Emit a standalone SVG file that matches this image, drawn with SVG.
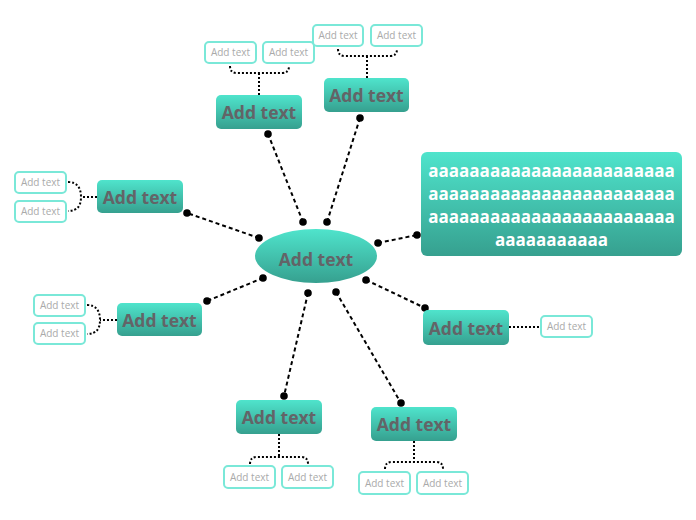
<svg xmlns="http://www.w3.org/2000/svg" width="696" height="520" viewBox="0 0 696 520">
<defs>
<linearGradient id="g" x1="0" y1="0" x2="0" y2="1">
<stop offset="0" stop-color="#4fe4cc"/>
<stop offset="1" stop-color="#36a08f"/>
</linearGradient>
<style>
.topic{fill:url(#g)}
.tt{font-family:"Open Sans","Noto Sans",sans-serif;font-weight:bold;font-size:17.5px;fill:#636467;text-anchor:middle}
.sub{fill:#fff;stroke:#7ae8d8;stroke-width:2}
.st{font-family:"Open Sans","Noto Sans",sans-serif;font-size:10px;fill:#aaaaaa;text-anchor:middle}
.main{fill:none;stroke:#000;stroke-width:2;stroke-dasharray:4 3}
.br{fill:none;stroke:#000;stroke-width:2;stroke-dasharray:2 2}
.dot{fill:#000}
.bt{font-family:"Open Sans","Noto Sans",sans-serif;font-weight:bold;font-size:17px;fill:#fff;text-anchor:middle}
</style>
</defs>
<g id="connectors">
<line class="main" x1="303" y1="222" x2="268" y2="134"/>
<line class="main" x1="327" y1="222" x2="360" y2="118"/>
<line class="main" x1="259" y1="238" x2="187" y2="213"/>
<line class="main" x1="263" y1="278" x2="207" y2="301"/>
<line class="main" x1="308" y1="293" x2="284" y2="396"/>
<line class="main" x1="336" y1="292" x2="401" y2="403"/>
<line class="main" x1="366" y1="280" x2="425" y2="308"/>
<line class="main" x1="378" y1="243" x2="417" y2="235"/>
<circle class="dot" cx="303" cy="222" r="3.8"/><circle class="dot" cx="268" cy="134" r="3.8"/>
<circle class="dot" cx="327" cy="222" r="3.8"/><circle class="dot" cx="360" cy="118" r="3.8"/>
<circle class="dot" cx="259" cy="238" r="3.8"/><circle class="dot" cx="187" cy="213" r="3.8"/>
<circle class="dot" cx="263" cy="278" r="3.8"/><circle class="dot" cx="207" cy="301" r="3.8"/>
<circle class="dot" cx="308" cy="293" r="3.8"/><circle class="dot" cx="284" cy="396" r="3.8"/>
<circle class="dot" cx="336" cy="292" r="3.8"/><circle class="dot" cx="401" cy="403" r="3.8"/>
<circle class="dot" cx="366" cy="280" r="3.8"/><circle class="dot" cx="425" cy="308" r="3.8"/>
<circle class="dot" cx="378" cy="243" r="3.8"/><circle class="dot" cx="417" cy="235" r="3.8"/>
<path class="br" d="M259,95 V73 M230,66 Q230,73 237,73 H282 Q289,73 289,66"/>
<path class="br" d="M367,78 V56 M338,49 Q338,56 345,56 H390 Q397,56 397,49"/>
<path class="br" d="M97,197 H81 M68,182 C78,182 81,189 81,197 C81,205 78,211 68,211"/>
<path class="br" d="M117,320 H100 M87,305 C97,305 100,312 100,320 C100,328 97,334 87,334"/>
<path class="br" d="M279,434 V457 M250,464 Q250,457 257,457 H301 Q308,457 308,464"/>
<path class="br" d="M414,441 V462 M385,469 Q385,462 392,462 H436 Q443,462 443,469"/>
<line class="br" x1="509" y1="327" x2="540" y2="327"/>
</g>
<g id="center">
<ellipse class="topic" cx="316" cy="256" rx="61" ry="27"/>
<text class="tt" x="316" y="266">Add text</text>
</g>
<g id="topic1">
<rect class="topic" x="216" y="95" width="86" height="34" rx="5"/>
<text class="tt" x="259" y="119">Add text</text>
</g>
<g id="topic1-sub1"><rect class="sub" x="205" y="42" width="51" height="21" rx="4"/><text class="st" x="230.5" y="56">Add text</text></g>
<g id="topic1-sub2"><rect class="sub" x="263" y="42" width="51" height="21" rx="4"/><text class="st" x="288.5" y="56">Add text</text></g>
<g id="topic2">
<rect class="topic" x="324" y="78" width="85" height="34" rx="5"/>
<text class="tt" x="366.5" y="102">Add text</text>
</g>
<g id="topic2-sub1"><rect class="sub" x="313" y="25" width="50" height="21" rx="4"/><text class="st" x="338" y="39">Add text</text></g>
<g id="topic2-sub2"><rect class="sub" x="371" y="25" width="51" height="21" rx="4"/><text class="st" x="396.5" y="39">Add text</text></g>
<g id="topic3">
<rect class="topic" x="97" y="180" width="86" height="33" rx="5"/>
<text class="tt" x="140" y="204">Add text</text>
</g>
<g id="topic3-sub1"><rect class="sub" x="15" y="172" width="51" height="21" rx="4"/><text class="st" x="40.5" y="186">Add text</text></g>
<g id="topic3-sub2"><rect class="sub" x="15" y="201" width="51" height="21" rx="4"/><text class="st" x="40.5" y="215">Add text</text></g>
<g id="topic4">
<rect class="topic" x="117" y="303" width="85" height="33" rx="5"/>
<text class="tt" x="159.5" y="327">Add text</text>
</g>
<g id="topic4-sub1"><rect class="sub" x="34" y="295" width="51" height="21" rx="4"/><text class="st" x="59.5" y="309">Add text</text></g>
<g id="topic4-sub2"><rect class="sub" x="34" y="323" width="51" height="21" rx="4"/><text class="st" x="59.5" y="337">Add text</text></g>
<g id="topic5">
<rect class="topic" x="423" y="310" width="86" height="35" rx="5"/>
<text class="tt" x="466" y="335">Add text</text>
</g>
<g id="topic5-sub1"><rect class="sub" x="541" y="316" width="51" height="21" rx="4"/><text class="st" x="566.5" y="330">Add text</text></g>
<g id="topic6">
<rect class="topic" x="236" y="400" width="86" height="34" rx="5"/>
<text class="tt" x="279" y="424">Add text</text>
</g>
<g id="topic6-sub1"><rect class="sub" x="224" y="466" width="51" height="22" rx="4"/><text class="st" x="249.5" y="481">Add text</text></g>
<g id="topic6-sub2"><rect class="sub" x="282" y="466" width="51" height="22" rx="4"/><text class="st" x="307.5" y="481">Add text</text></g>
<g id="topic7">
<rect class="topic" x="371" y="407" width="86" height="34" rx="5"/>
<text class="tt" x="414" y="431">Add text</text>
</g>
<g id="topic7-sub1"><rect class="sub" x="359" y="472" width="51" height="22" rx="4"/><text class="st" x="384.5" y="487">Add text</text></g>
<g id="topic7-sub2"><rect class="sub" x="417" y="472" width="51" height="22" rx="4"/><text class="st" x="442.5" y="487">Add text</text></g>
<g id="topic8">
<rect class="topic" x="421" y="152" width="261" height="104" rx="6"/>
<text class="bt" x="551.5" y="177">aaaaaaaaaaaaaaaaaaaaaaaa</text>
<text class="bt" x="551.5" y="200">aaaaaaaaaaaaaaaaaaaaaaaa</text>
<text class="bt" x="551.5" y="223">aaaaaaaaaaaaaaaaaaaaaaaa</text>
<text class="bt" x="551.5" y="246">aaaaaaaaaaa</text>
</g>
</svg>
